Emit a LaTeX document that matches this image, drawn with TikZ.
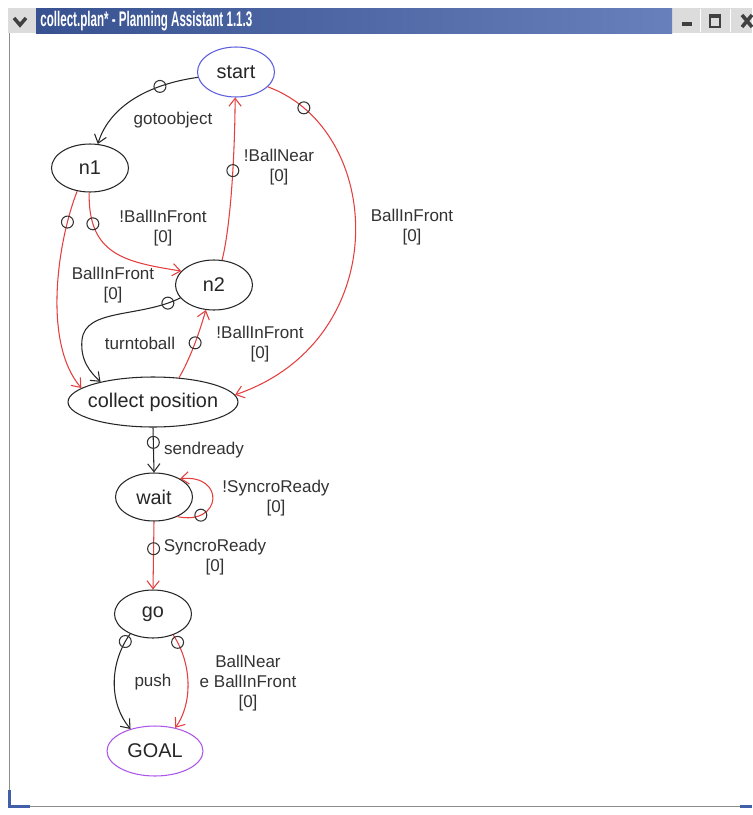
\documentclass[tikz,border=0pt]{standalone}
\usepackage{fontspec}
\setmainfont{Liberation Sans}
\usepackage{graphicx}
\usepackage{tikz}
\usetikzlibrary{arrows.meta,shapes.geometric}
\definecolor{redline}{RGB}{228,62,62}
\definecolor{startblue}{RGB}{92,92,222}
\definecolor{goalviolet}{RGB}{172,86,232}
\definecolor{barblue}{RGB}{66,96,170}
\definecolor{chrome}{RGB}{220,220,220}

\begin{document}
\begin{tikzpicture}[x=0.02cm,y=-0.02cm,
  state/.style={ellipse,draw=black!85,line width=0.6pt,inner sep=0pt,minimum width=1.54cm,minimum height=0.96cm,font=\fontsize{11.3}{13}\selectfont,text=black!85},
  cond/.style={align=center,inner sep=0pt,font=\fontsize{9.7}{11.5}\selectfont,text=black!80},
  transition/.style={line width=0.6pt,draw=black!85,-{Straight Barb[length=4.5pt,width=7pt]}},
  guarded/.style={transition,draw=redline},
  ring/.style={circle,draw=black!80,line width=0.6pt,inner sep=0pt,minimum size=6.8pt}]
\useasboundingbox (0,0) rectangle (752,815);
\fill[white] (0,0) rectangle (752,815);
% window frame
\fill[chrome] (8,8) rectangle (36,33); \fill[chrome] (672,8) rectangle (752,33);
\shade[left color=barblue!85!black,right color=barblue!80!white] (36,8) rectangle (672,33);
\draw[black!75,line width=2pt] (14,18)--(20,25)--(26,18);
\node[white,anchor=west,inner sep=0pt,font=\bfseries\fontsize{12}{12}\selectfont] (title) at (40,21) {\scalebox{0.55}[1]{collect.plan* - Planning Assistant 1.1.3}};
\fill[black!75] (682,22) rectangle (692,26);
\draw[black!75,line width=1pt] (710,15) rectangle (720,27); \fill[black!75] (710,15) rectangle (720,18);
\draw[black!75,line width=2pt] (742,15)--(752,27) (742,27)--(752,15);
\draw[white] (700,9)--(700,32) (730,9)--(730,32);
\draw[black!45] (9,33)--(9,806)--(752,806);
\fill[barblue] (8,790) rectangle (11,808); \fill[barblue] (8,805) rectangle (30,808); \fill[barblue] (740,805) rectangle (752,808);
% states
\node[state,draw=startblue,minimum height=1cm] (start) at (236,72) {start};
\node[state] (n1) at (90,168) {n1};
\node[state,minimum height=1cm] (n2) at (214,285) {n2};
\node[state,minimum width=3.4cm,minimum height=1cm,inner xsep=-3pt] (cp) at (153,402) {collect position};
\node[state] (wait) at (154,497) {wait};
\node[state] (go) at (153,614) {go};
\node[state,draw=goalviolet,minimum width=1.92cm,minimum height=1cm] (goal) at (155,751) {GOAL};
% conditions
\node[cond] (lgoto) at (173,120) {gotoobject};
\node[cond] (lnear) at (279,167) {!BallNear\\{[0]}};
\node[cond] (lnotfront) at (163,228) {!BallInFront\\{[0]}};
\node[cond] (lfront) at (113,285) {BallInFront\\{[0]}};
\node[cond] (lfrontstart) at (412,227) {BallInFront\\{[0]}};
\node[cond] (lturn) at (140,343) {turntoball};
\node[cond] (lnotfronttwo) at (260,344) {!BallInFront\\{[0]}};
\node[cond] (lsend) at (204,450) {sendready};
\node[cond] (lnotsync) at (276,498) {!SyncroReady\\{[0]}};
\node[cond] (lsync) at (215,557) {SyncroReady\\{[0]}};
\node[cond] (lpush) at (153,682) {push};
\node[cond] (lball) at (248,683) {BallNear\\e BallInFront\\{[0]}};
% transitions
\draw[transition] (start.188) .. controls (150,84) and (110,105) .. (n1.72) node[ring,pos=.28] (r1) {};
\draw[guarded] (n1.-92) .. controls (88,255) and (125,262) .. (n2.157) node[ring,pos=.2] (r2) {};
\draw[guarded] (n1.-119) .. controls (58,240) and (42,342) .. (cp.169) node[ring,pos=.18] (r3) {};
\draw[guarded] (n2.72) .. controls (232,220) and (235,140) .. (start.-92) node[ring,pos=.55] (r4) {};
\draw[guarded] (start.-25) .. controls (385,130) and (395,340) .. (cp.5) node[ring,pos=.115] (r5) {};
\draw[transition] (n2.201) .. controls (140,318) and (85,308) .. (82,340) node[ring,pos=.1] (r6) {} .. controls (80,360) and (90,372) .. (cp.159);
\draw[guarded] (cp.43) .. controls (192,355) and (200,330) .. (n2.-108) node[ring,pos=.5] (r7) {};
\draw[transition] (cp.south) -- (wait.north) node[ring,pos=.33] (r8) {};
\draw[guarded] (wait.-40) .. controls (222,526) and (226,474) .. (wait.35) node[ring,pos=.22] (r9) {};
\draw[guarded] (wait.south) -- (go.north) node[ring,pos=.4] (r10) {};
\draw[transition] (go.-139) .. controls (108,665) and (110,705) .. (goal.138) node[ring,pos=.08] (r11) {};
\draw[guarded] (go.-46) .. controls (193,665) and (192,705) .. (goal.49) node[ring,pos=.08] (r12) {};
\end{tikzpicture}
\end{document}
